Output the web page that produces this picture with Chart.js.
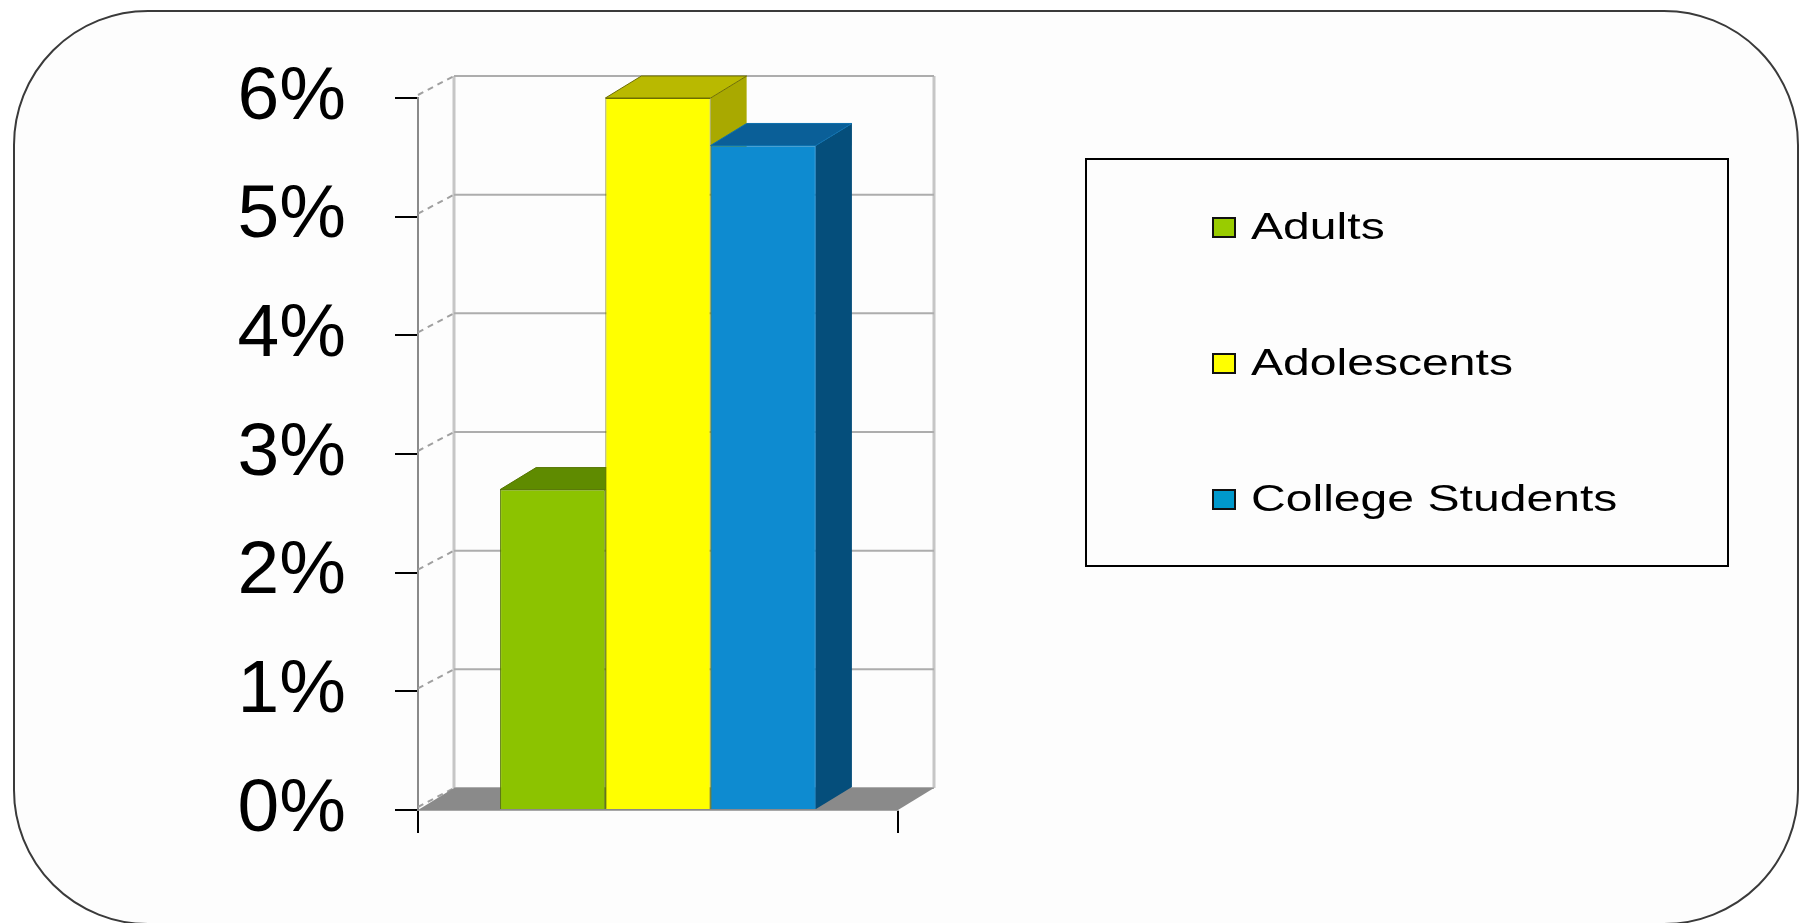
<!DOCTYPE html>
<html>
<head>
<meta charset="utf-8">
<script src="https://cdn.jsdelivr.net/npm/chart.js@4/dist/chart.umd.min.js"></script>
<style>
html,body{margin:0;padding:0;background:#ffffff;width:1800px;height:923px;overflow:hidden;}
#frame{position:absolute;left:13px;top:10px;width:1786px;height:915px;box-sizing:border-box;border:2px solid #3a3a3a;border-radius:135px;background:#fdfdfd;}
#wrap{position:absolute;left:0;top:0;width:1800px;height:923px;}
#legend{position:absolute;left:1085px;top:158px;width:644px;height:409px;box-sizing:border-box;border:2px solid #000;font-family:"Liberation Sans",Arial,sans-serif;}
.item{position:absolute;left:125px;height:50px;display:flex;align-items:center;}
.sw{width:24px;height:21px;box-sizing:border-box;border:2px solid #111;margin-right:15px;flex:none;}
.lbl{display:inline-block;font-size:37px;transform:scaleX(1.3);transform-origin:left center;white-space:nowrap;color:#000;}
</style>
</head>
<body>
<div id="frame"></div>
<div id="wrap"><canvas id="c"></canvas></div>
<div id="legend"></div>
<script>
// ---- data ----
const categories = [''];
const seriesNames = ['Adults', 'Adolescents', 'College Students'];
const adultsValues = [2.7];
const adolescentsValues = [6.0];
const collegeValues = [5.6];
const yTickLabels = ['0%', '1%', '2%', '3%', '4%', '5%', '6%'];

// ---- styles ----
const frontColors = ['#8cc300', '#ffff00', '#0e8bd0'];
const topColors   = ['#5f8b00', '#b9b900', '#0a5f98'];
const sideColors  = ['#4e7300', '#a9a900', '#054e7b'];
const edgeColors  = ['#557500', '#6e6e00', '#0b6fae'];
const legendColors = ['#99cc00', '#ffff00', '#0099cc'];

const seriesValues = [adultsValues, adolescentsValues, collegeValues];

const DX = 36, DY = -22;

const depth3d = {
  id: 'depth3d',
  beforeDatasetsDraw(chart) {
    const {ctx, chartArea: ca, scales: {y}} = chart;
    ctx.save();
    // back wall side edges
    ctx.strokeStyle = '#c6c6c6';
    ctx.lineWidth = 3;
    ctx.beginPath();
    ctx.moveTo(ca.left + DX, ca.top + DY); ctx.lineTo(ca.left + DX, ca.bottom + DY);
    ctx.moveTo(ca.right + DX, ca.top + DY); ctx.lineTo(ca.right + DX, ca.bottom + DY);
    ctx.stroke();
    // back wall gridlines and side wall dashed lines
    y.ticks.forEach(t => {
      const py = y.getPixelForValue(t.value);
      ctx.setLineDash([]);
      ctx.strokeStyle = '#adadad';
      ctx.lineWidth = 2;
      ctx.beginPath();
      ctx.moveTo(ca.left + DX, py + DY); ctx.lineTo(ca.right + DX, py + DY);
      ctx.stroke();
      ctx.setLineDash([6, 5]);
      ctx.strokeStyle = '#a0a0a0';
      ctx.beginPath();
      ctx.moveTo(ca.left, py - 3); ctx.lineTo(ca.left + DX, py + DY);
      ctx.stroke();
    });
    ctx.setLineDash([]);
    // floor
    ctx.fillStyle = '#8a8a8a';
    ctx.beginPath();
    ctx.moveTo(ca.left, ca.bottom); ctx.lineTo(ca.right, ca.bottom);
    ctx.lineTo(ca.right + DX, ca.bottom + DY); ctx.lineTo(ca.left + DX, ca.bottom + DY);
    ctx.closePath(); ctx.fill();
    // bar tops and sides
    chart.data.datasets.forEach((ds, i) => {
      const meta = chart.getDatasetMeta(i);
      if (meta.hidden) return;
      meta.data.forEach(bar => {
        const {x, y: top, base, width} = bar.getProps(['x', 'y', 'base', 'width'], true);
        const l = x - width / 2, r = x + width / 2;
        ctx.lineWidth = 1;
        ctx.strokeStyle = edgeColors[i];
        ctx.fillStyle = sideColors[i];
        ctx.beginPath();
        ctx.moveTo(r, top); ctx.lineTo(r + DX, top + DY);
        ctx.lineTo(r + DX, base + DY); ctx.lineTo(r, base);
        ctx.closePath(); ctx.fill();
        ctx.fillStyle = topColors[i];
        ctx.beginPath();
        ctx.moveTo(l, top); ctx.lineTo(r, top);
        ctx.lineTo(r + DX, top + DY); ctx.lineTo(l + DX, top + DY);
        ctx.closePath(); ctx.fill(); ctx.stroke();
      });
    });
    ctx.restore();
  }
};

Chart.defaults.font.family = '"Liberation Sans", Arial, sans-serif';

const chart = new Chart(document.getElementById('c'), {
  type: 'bar',
  data: {
    labels: categories,
    datasets: seriesNames.map((name, i) => ({
      label: name,
      data: seriesValues[i],
      backgroundColor: frontColors[i],
      borderColor: edgeColors[i],
      borderWidth: 1,
      barPercentage: 1.0,
      categoryPercentage: 0.658
    }))
  },
  options: {
    responsive: true,
    maintainAspectRatio: false,
    devicePixelRatio: 1,
    animation: false,
    layout: {padding: {left: 20, top: 98, right: 902, bottom: 0}},
    plugins: {legend: {display: false}, tooltip: {enabled: false}},
    scales: {
      x: {
        grid: {drawOnChartArea: false, tickLength: 23, color: '#000', lineWidth: 2, offset: true},
        border: {color: '#a8a8a8', width: 1},
        ticks: {display: true},
        afterFit(scale) { scale.height = 113; }
      },
      y: {
        min: 0, max: 6,
        grid: {drawOnChartArea: false, tickLength: 23, color: '#000', lineWidth: 2},
        border: {color: '#8a8a8a', width: 2},
        ticks: {
          stepSize: 1,
          padding: 49,
          color: '#000',
          font: {size: 75},
          callback: (v, idx) => yTickLabels[idx]
        },
        afterFit(scale) { scale.width = 398; }
      }
    }
  },
  plugins: [depth3d]
});

// legend (HTML, built from the series names)
const legendEl = document.getElementById('legend');
const itemTops = [42, 178, 314];
seriesNames.forEach((name, i) => {
  const it = document.createElement('div');
  it.className = 'item';
  it.style.top = itemTops[i] + 'px';
  const sw = document.createElement('div');
  sw.className = 'sw';
  sw.style.background = legendColors[i];
  const lb = document.createElement('span');
  lb.className = 'lbl';
  lb.textContent = name;
  it.appendChild(sw); it.appendChild(lb);
  legendEl.appendChild(it);
});
</script>
</body>
</html>
